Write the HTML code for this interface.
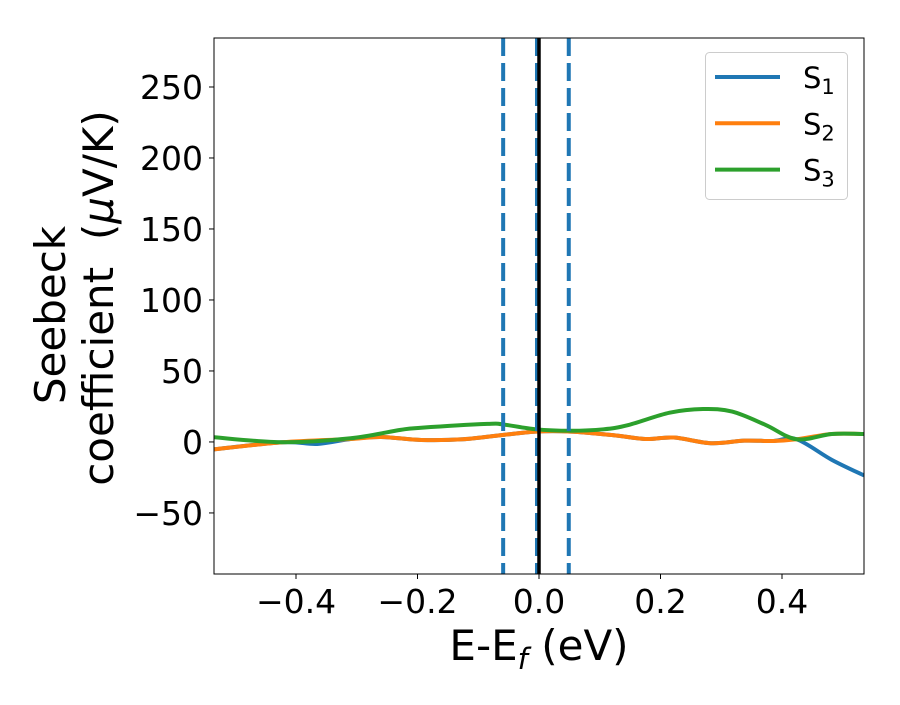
<!DOCTYPE html>
<html><head><meta charset="utf-8"><style>
body{margin:0;background:#fff}
svg text{font-family:"DejaVu Sans","Liberation Sans",sans-serif;fill:#000}
</style></head><body>
<svg id="chart" width="900" height="700" xmlns="http://www.w3.org/2000/svg"></svg>
<script>
const s1X=[-0.535,-0.422,-0.365,-0.31,-0.26,-0.194,-0.125,-0.06,-0.005,0.052,0.12,0.175,0.222,0.283,0.338,0.386,0.424,0.482,0.535];
const s1Y=[-5.2,-0.2,-1.4,2.1,3.5,1.4,1.9,4.9,7.3,7.3,4.9,2.1,3.1,-0.9,0.9,0.7,1.9,-12.6,-23.6];
const s2X=[-0.535,-0.422,-0.31,-0.26,-0.194,-0.125,-0.06,-0.005,0.052,0.12,0.175,0.222,0.283,0.338,0.386,0.424,0.482,0.535];
const s2Y=[-5.2,-0.2,2.1,3.5,1.4,1.9,4.9,7.3,7.3,4.9,2.1,3.1,-0.9,0.9,0.7,1.9,5.6,5.6];
const s3X=[-0.535,-0.422,-0.31,-0.228,-0.194,-0.085,-0.06,-0.005,0.052,0.106,0.147,0.215,0.27,0.318,0.373,0.424,0.482,0.535];
const s3Y=[3.3,-0.2,2.6,8.5,10,12.7,12.4,8.9,7.9,8.9,11.9,20.6,23.2,21.4,12,1.9,5.6,5.6];
const xTicks=[-0.4,-0.2,0.0,0.2,0.4];
const xTickLabels=["\u22120.4","\u22120.2","0.0","0.2","0.4"];
const yTicks=[-50,0,50,100,150,200,250];
const yTickLabels=["\u221250","0","50","100","150","200","250"];
const vDashed=[-0.059,-0.0033,0.049];
const vSolid=[0.0];
const seriesNames=["S1","S2","S3"];

const L=214,R=864,T=38,B=574;
const xMin=-0.535,xMax=0.535,yMin=-93,yMax=284.5;
const sx=v=>L+(v-xMin)/(xMax-xMin)*(R-L);
const sy=v=>B-(v-yMin)/(yMax-yMin)*(B-T);
const svg=document.getElementById('chart');
const NS="http://www.w3.org/2000/svg";
function mk(tag,attrs,parent){const e=document.createElementNS(NS,tag);for(const k in attrs)e.setAttribute(k,attrs[k]);(parent||svg).appendChild(e);return e;}
function smooth(xs,ys){const p=xs.map((x,i)=>[sx(x),sy(ys[i])]);let d="M"+p[0][0]+","+p[0][1];
for(let i=0;i<p.length-1;i++){const p0=p[i-1]||p[i],p1=p[i],p2=p[i+1],p3=p[i+2]||p2;
d+=` C${p1[0]+(p2[0]-p0[0])/6},${p1[1]+(p2[1]-p0[1])/6} ${p2[0]-(p3[0]-p1[0])/6},${p2[1]-(p3[1]-p1[1])/6} ${p2[0]},${p2[1]}`;}return d;}

const defs=mk('defs',{});const cp=mk('clipPath',{id:'clip'},defs);mk('rect',{x:L,y:T,width:R-L,height:B-T},cp);
const plot=mk('g',{'clip-path':'url(#clip)'});

const colors=['#1f77b4','#ff7f0e','#2ca02c'];
[[s1X,s1Y],[s2X,s2Y],[s3X,s3Y]].forEach((s,i)=>{const p=mk('path',{d:smooth(s[0],s[1]),fill:'none',stroke:colors[i],'stroke-width':4},plot);
});
vDashed.forEach(v=>{const l=mk('line',{x1:sx(v),x2:sx(v),y1:T,y2:B,stroke:'#1f77b4','stroke-width':4,'stroke-dasharray':'18,7'},plot);
});
vSolid.forEach(v=>{const l=mk('line',{x1:sx(v),x2:sx(v),y1:T,y2:B,stroke:'#000','stroke-width':3.5},plot);
});
const fr=mk('rect',{x:L,y:T,width:R-L,height:B-T,fill:'none',stroke:'#000','stroke-width':1});


xTicks.forEach((v,i)=>{const x=sx(v);mk('line',{x1:x,x2:x,y1:B,y2:B+5,stroke:'#000','stroke-width':1});
const t=mk('text',{x:x,y:B+39,'text-anchor':'middle','font-size':33});t.textContent=xTickLabels[i];
});
yTicks.forEach((v,i)=>{const y=sy(v);mk('line',{x1:L-5,x2:L,y1:y,y2:y,stroke:'#000','stroke-width':1});
const t=mk('text',{x:L-11,y:y+12,'text-anchor':'end','font-size':33});t.textContent=yTickLabels[i];
});

const xt=mk('text',{x:539,y:660,'text-anchor':'middle','font-size':42});
xt.innerHTML='E-E<tspan font-style="italic" font-size="29" dy="9">f</tspan><tspan dy="-9"> (eV)</tspan>';

const yt1=mk('text',{x:0,y:0,'text-anchor':'middle','font-size':42,transform:'translate(65,315) rotate(-90)'});yt1.textContent='Seebeck';

const yt2=mk('text',{x:0,y:0,'text-anchor':'middle','font-size':42,transform:'translate(113,298) rotate(-90)'});
yt2.innerHTML='coefficient\u00a0 (<tspan font-style="italic">μ</tspan>V/K)';


const lg=mk('g',{});
mk('rect',{x:705.5,y:52.5,width:142,height:147,rx:4,fill:'#fff',stroke:'#ccc','stroke-width':1},lg);
seriesNames.forEach((n,i)=>{const y=77+i*46.3;const e=mk('g',{},lg);

mk('line',{x1:715,x2:780,y1:y,y2:y,stroke:colors[i],'stroke-width':4},e);
const t=mk('text',{x:803,y:y+11,'font-size':29},e);t.innerHTML='S<tspan font-size="21" dy="6">'+n.slice(1)+'</tspan>';});
</script>
</body></html>
